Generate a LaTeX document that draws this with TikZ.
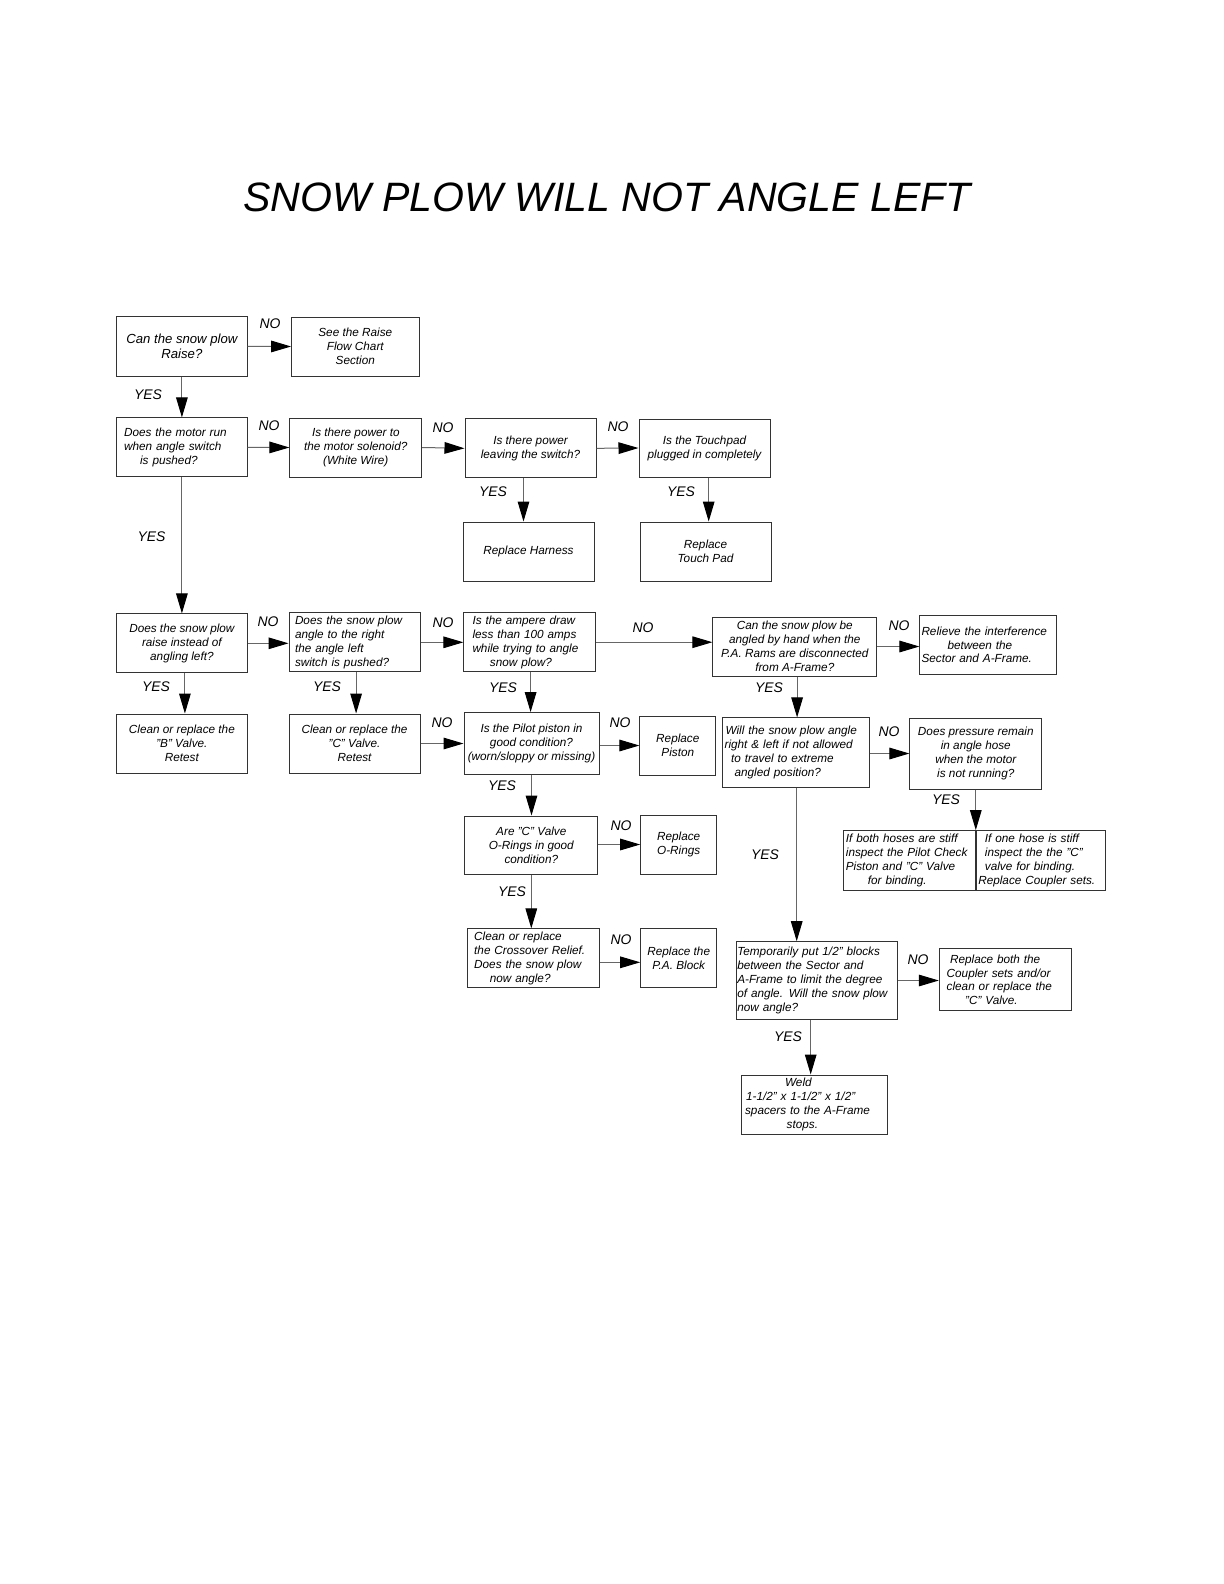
\documentclass[tikz,border=0pt]{standalone}
\usepackage{fontspec}
\setmainfont{Liberation Sans}
\usetikzlibrary{arrows.meta}
\newcommand\bfs{\fontsize{5.9}{7}\selectfont\itshape}
\newcommand\lfs{\fontsize{7}{8}\selectfont\itshape}
\newcommand\ind[1]{\hspace*{#1bp}}
\tikzset{
  x=0.5bp, y=-0.5bp,
  box/.style={draw=black!80, line width=0.5bp, inner sep=0.5bp, font=\bfs, align=center},
  lbox/.style={box, align=left, text width=#1},
  lab/.style={font=\lfs, inner sep=0},
  arr/.style={draw=black!60, line width=0.5bp, -{Triangle[length=10bp,width=5.8bp,color=black]}}
}
\begin{document}
\begin{tikzpicture}
\useasboundingbox (0,0) rectangle (1224,1584);
\fill[white] (0,0) rectangle (1224,1584);

\node[font=\fontsize{20.6}{24}\selectfont\itshape, inner sep=0] (title) at (607,197) {SNOW PLOW WILL NOT ANGLE LEFT};

% boxes
\node[box, minimum width=65.2bp, minimum height=29.7bp, font=\fontsize{6.6}{7.6}\selectfont\itshape] (raise) at (181.9,346.4) {Can the snow plow\\Raise?};
\node[box, minimum width=63.7bp, minimum height=29.5bp] (seeraise) at (355.3,346.5) {See the Raise\\Flow Chart\\Section};
\node[lbox=57.8bp, minimum width=65.2bp, minimum height=29.4bp] (motor) at (181.9,447.3) {\mbox{Does the motor run}\\\mbox{when angle switch}\\\mbox{\ind{8}is pushed?}};
\node[box, minimum width=65.9bp, minimum height=29.5bp] (solenoid) at (355.8,447.5) {Is there power to\\the motor solenoid?\\(White Wire)};
\node[box, minimum width=65.5bp, minimum height=29.4bp] (leaving) at (530.5,448.3) {Is there power\\leaving the switch?};
\node[box, minimum width=65.5bp, minimum height=29bp] (touchpad) at (704.5,448) {Is the Touchpad\\plugged in completely};
\node[box, minimum width=65.5bp, minimum height=29.5bp] (harness) at (528.5,551.5) {Replace Harness};
\node[box, minimum width=65.5bp, minimum height=29.5bp] (touchrep) at (705.5,551.5) {Replace\\Touch Pad};

\node[box, minimum width=65.2bp, minimum height=29.4bp] (raiseinst) at (181.9,643.3) {Does the snow plow\\raise instead of\\angling left?};
\node[lbox=59.5bp, minimum width=65.5bp, minimum height=29.4bp] (angleright) at (354.5,642.3) {\mbox{Does the snow plow}\\\mbox{angle to the right}\\\mbox{the angle left}\\\mbox{switch is pushed?}};
\node[lbox=57.3bp, minimum width=65.9bp, minimum height=29.5bp] (ampere) at (529.8,642.2) {\mbox{Is the ampere draw}\\\mbox{less than 100 amps}\\\mbox{while trying to angle}\\\mbox{\ind{8.7}snow plow?}};
\node[box, minimum width=81.9bp, minimum height=29.5bp] (byhand) at (794.8,646.5) {Can the snow plow be\\angled by hand when the\\P.A. Rams are disconnected\\from A-Frame?};
\node[lbox=66.8bp, minimum width=68.4bp, minimum height=29.2bp] (relieve) at (988.3,644.8) {\mbox{Relieve the interference}\\\mbox{\ind{13}between the}\\\mbox{Sector and A-Frame.}};

\node[box, minimum width=65.2bp, minimum height=29.5bp] (cleanB) at (181.9,743.5) {Clean or replace the\\"B" Valve.\\Retest};
\node[box, minimum width=65.5bp, minimum height=29.5bp] (cleanC) at (354.5,743.5) {Clean or replace the\\"C" Valve.\\Retest};
\node[box, minimum width=67.5bp, minimum height=30.7bp] (pilot) at (531.5,743.3) {Is the Pilot piston in\\good condition?\\(worn/sloppy or missing)};
\node[box, minimum width=37.9bp, minimum height=29.5bp] (piston) at (677.8,745.5) {Replace\\Piston};
\node[lbox=70.9bp, minimum width=73.5bp, minimum height=34.9bp] (will) at (795.5,752.8) {\mbox{\ind{0.5}Will the snow plow angle}\\\mbox{right \& left if not allowed}\\\mbox{\ind{3.3}to travel to extreme}\\\mbox{\ind{5}angled position?}};
\node[box, minimum width=65.9bp, minimum height=35.5bp] (pressure) at (975.8,753.5) {Does pressure remain\\in angle hose\\when the motor\\is not running?};

\node[box, minimum width=66.4bp, minimum height=29bp] (arec) at (531.3,845) {Are "C" Valve\\O-Rings in good\\condition?};
\node[box, minimum width=38bp, minimum height=29.5bp] (orings) at (678.7,844.5) {Replace\\O-Rings};
\node[lbox=63.8bp, minimum width=66.4bp, minimum height=29.7bp] (hose1) at (909.7,860.3) {\mbox{If both hoses are stiff}\\\mbox{inspect the Pilot Check}\\\mbox{Piston and "C" Valve}\\\mbox{\ind{11}for binding.}};
\node[lbox=62.5bp, minimum width=64.9bp, minimum height=29.7bp] (hose2) at (1040.8,860.3) {\mbox{\ind{3.3}If one hose is stiff}\\\mbox{\ind{3.3}inspect the the "C"}\\\mbox{\ind{3.3}valve for binding.}\\\mbox{Replace Coupler sets.}};

\node[lbox=59.3bp, minimum width=65.9bp, minimum height=29.4bp] (crossover) at (533.5,958.3) {\mbox{Clean or replace}\\\mbox{the Crossover Relief.}\\\mbox{Does the snow plow}\\\mbox{\ind{7.8}now angle?}};
\node[box, minimum width=38bp, minimum height=29.4bp] (pablock) at (678.7,958.3) {Replace the\\P.A. Block};
\node[lbox=79.4bp, minimum width=80bp, minimum height=38.8bp] (temp) at (816.7,980.5) {\mbox{Temporarily put 1/2" blocks}\\\mbox{between the Sector and}\\\mbox{A-Frame to limit the degree}\\\mbox{of angle. Will the snow plow}\\\mbox{now angle?}};
\node[lbox=58.5bp, minimum width=65.9bp, minimum height=30.9bp] (replaceboth) at (1005.2,979.8) {\mbox{\ind{1.7}Replace both the}\\\mbox{Coupler sets and/or}\\\mbox{clean or replace the}\\\mbox{\ind{9.2}"C" Valve.}};
\node[lbox=69.4bp, minimum width=72.8bp, minimum height=29.5bp] (weld) at (814.5,1104.5) {\mbox{\ind{20}Weld}\\\mbox{\ind{0.5}1-1/2" x 1-1/2" x 1/2"}\\\mbox{spacers to the A-Frame}\\\mbox{\ind{20.8}stops.}};

% connectors
\draw[arr] (raise.east) -- (seeraise.west);
\draw[arr] (raise.south) -- (motor.north);
\draw[arr] (motor.east) -- (solenoid.west);
\draw[arr] (solenoid.east) -- (leaving.west);
\draw[arr] (leaving.east) -- (touchpad.west);
\draw[arr] ([xshift=-2.5bp]harness.north |- leaving.south) -- ([xshift=-2.5bp]harness.north);
\draw[arr] ([xshift=1.6bp]touchrep.north |- touchpad.south) -- ([xshift=1.6bp]touchrep.north);
\draw[arr] (motor.south) -- (raiseinst.north);
\draw[arr] (raiseinst.east) -- (raiseinst.east -| angleright.west);
\draw[arr] (angleright.east) -- (angleright.east -| ampere.west);
\draw[arr] (ampere.east) -- (ampere.east -| byhand.west);
\draw[arr] (byhand.east) -- (byhand.east -| relieve.west);
\draw[arr] ([xshift=1.5bp]cleanB.north |- raiseinst.south) -- ([xshift=1.5bp]cleanB.north);
\draw[arr] ([xshift=0.8bp]cleanC.north |- angleright.south) -- ([xshift=0.8bp]cleanC.north);
\draw[arr] (cleanC.east) -- (cleanC.east -| pilot.west);
\draw[arr] ([xshift=0.4bp]ampere.south) -- ([xshift=0.4bp]ampere.south |- pilot.north);
\draw[arr] (piston.west -| pilot.east) -- (piston.west);
\draw[arr] ([xshift=0.8bp]will.north |- byhand.south) -- ([xshift=0.8bp]will.north);
\draw[arr] (will.east |- pressure.west) -- (pressure.west);
\draw[arr] (pressure.south) -- (pressure.south |- hose1.north);
\draw[arr] (pilot.south) -- (pilot.south |- arec.north);
\draw[arr] (arec.east |- orings.west) -- (orings.west);
\draw[arr] (arec.south) -- (arec.south |- crossover.north);
\draw[arr] ([yshift=-2bp]crossover.east) -- ([yshift=-2bp]crossover.east -| pablock.west);
\draw[arr] ([xshift=0.6bp]will.south) -- ([xshift=0.6bp]will.south |- temp.north);
\draw[arr] (temp.east) -- (temp.east -| replaceboth.west);
\draw[arr] ([xshift=-1.9bp]weld.north |- temp.south) -- ([xshift=-1.9bp]weld.north);

% labels
\node[lab] (l1) at (270,324) {NO};
\node[lab] (l2) at (148,395) {YES};
\node[lab] (l3) at (269,426) {NO};
\node[lab] (l4) at (443,428) {NO};
\node[lab] (l5) at (618,427) {NO};
\node[lab] (l6) at (493,492) {YES};
\node[lab] (l7) at (681,492) {YES};
\node[lab] (l8) at (151.5,537) {YES};
\node[lab] (l9) at (268,622) {NO};
\node[lab] (l10) at (156,687) {YES};
\node[lab] (l11) at (327,687) {YES};
\node[lab] (l12) at (443,623) {NO};
\node[lab] (l13) at (643,628) {NO};
\node[lab] (l14) at (503,688) {YES};
\node[lab] (l15) at (442,723) {NO};
\node[lab] (l16) at (620,723) {NO};
\node[lab] (l17) at (899,626) {NO};
\node[lab] (l18) at (769,688) {YES};
\node[lab] (l19) at (889,732) {NO};
\node[lab] (l20) at (946,800) {YES};
\node[lab] (l21) at (502,786) {YES};
\node[lab] (l22) at (621,826) {NO};
\node[lab] (l23) at (512,892) {YES};
\node[lab] (l24) at (621,940) {NO};
\node[lab] (l25) at (765,855) {YES};
\node[lab] (l26) at (918,960) {NO};
\node[lab] (l27) at (788,1037) {YES};
\end{tikzpicture}
\end{document}
